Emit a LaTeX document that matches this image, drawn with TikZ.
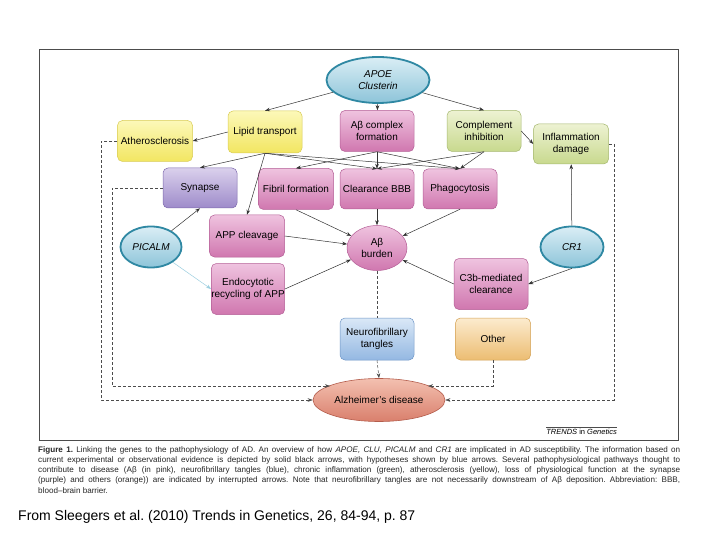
\documentclass[tikz,border=0pt]{standalone}
\usepackage{fontspec}
\setmainfont{Liberation Sans}
\usetikzlibrary{shapes.geometric,arrows.meta}

\definecolor{pinktop}{HTML}{EFC3DF}
\definecolor{pinkbot}{HTML}{D077AF}
\definecolor{pinkline}{HTML}{B45E96}
\definecolor{yeltop}{HTML}{FCF8B8}
\definecolor{yelbot}{HTML}{F2E662}
\definecolor{yelline}{HTML}{D9CC55}
\definecolor{grntop}{HTML}{EDF2D2}
\definecolor{grnbot}{HTML}{C8D98E}
\definecolor{grnline}{HTML}{A6B870}
\definecolor{purtop}{HTML}{DAD0EC}
\definecolor{purbot}{HTML}{9E8BCA}
\definecolor{purline}{HTML}{7D69AD}
\definecolor{blutop}{HTML}{DAE8F7}
\definecolor{blubot}{HTML}{94B8E2}
\definecolor{bluline}{HTML}{6D95C6}
\definecolor{orgtop}{HTML}{FCEBCE}
\definecolor{orgbot}{HTML}{ECBD72}
\definecolor{orgline}{HTML}{D3A052}
\definecolor{genetop}{HTML}{DAEEF5}
\definecolor{genebot}{HTML}{8DC4D9}
\definecolor{geneline}{HTML}{2F88A3}
\definecolor{adtop}{HTML}{F3C0B0}
\definecolor{adbot}{HTML}{D97F6C}
\definecolor{adline}{HTML}{B45D4C}
\definecolor{hypo}{HTML}{9CCFE0}

\begin{document}
\frenchspacing
\begin{tikzpicture}[x=1pt,y=-1pt,
    >={Stealth[length=5pt,width=3.6pt]},
    box/.style={rounded corners=5pt, minimum width=74pt, minimum height=41pt,
        inner sep=1pt, align=center, line width=0.5pt,
        font=\fontsize{10}{12}\selectfont},
    pinkbox/.style={box, draw=pinkline, top color=pinktop, bottom color=pinkbot},
    yelbox/.style={box, draw=yelline, top color=yeltop, bottom color=yelbot},
    grnbox/.style={box, draw=grnline, top color=grntop, bottom color=grnbot},
    purbox/.style={box, draw=purline, top color=purtop, bottom color=purbot},
    blubox/.style={box, draw=bluline, top color=blutop, bottom color=blubot},
    orgbox/.style={box, draw=orgline, top color=orgtop, bottom color=orgbot},
    gene/.style={ellipse, draw=geneline, line width=1.8pt, inner sep=0pt,
        top color=genetop, bottom color=genebot, align=center,
        font=\fontsize{10}{11.5}\selectfont\itshape},
    arr/.style={->, draw=black!80, line width=0.5pt},
    interrupted/.style={->, draw=black!70, line width=0.5pt, dash pattern=on 3pt off 2pt}
]
\useasboundingbox (0,0) rectangle (720,540);
\fill[white] (0,0) rectangle (720,540);
\draw[black!70, line width=0.8pt] (39,49) rectangle (678,440);

% genes
\node[gene, minimum width=103pt, minimum height=46pt] (apoe) at (378,80) {APOE\\Clusterin};
\node[gene, minimum width=61pt, minimum height=41pt] (picalm) at (151,247) {PICALM};
\node[gene, minimum width=63pt, minimum height=41pt] (cr1) at (572,247) {CR1};

% pathways
\node[yelbox, minimum height=42pt] (lipid) at (265,132) {Lipid transport};
\node[yelbox, minimum width=75pt] (athero) at (155,141) {Atherosclerosis};
\node[pinkbox] (complex) at (377,131) {Aβ complex\\formation};
\node[grnbox] (compl) at (484,131) {Complement\\inhibition};
\node[grnbox, minimum width=75pt, minimum height=40pt] (inflam) at (571,144) {Inflammation\\damage};
\node[purbox, minimum height=40pt] (synapse) at (200,188) {Synapse};
\node[pinkbox, minimum width=75pt] (fibril) at (296,189) {Fibril formation};
\node[pinkbox, minimum height=40pt] (bbb) at (377,189) {Clearance BBB};
\node[pinkbox, minimum height=40pt] (phago) at (460,189) {Phagocytosis};
\node[pinkbox, minimum width=75pt, minimum height=42pt] (app) at (247,236) {APP cleavage};
\node[pinkbox, minimum width=73pt, minimum height=51pt, inner sep=0pt] (endo) at (248,289) {Endocytotic\\recycling of APP};
\node[ellipse, draw=pinkline, line width=0.5pt, top color=pinktop, bottom color=pinkbot,
    minimum width=60pt, minimum height=45pt, inner sep=0pt, align=center,
    font=\fontsize{10}{12}\selectfont] (burden) at (377,248) {Aβ\\burden};
\node[pinkbox, minimum height=51pt] (c3b) at (491,284) {C3b-mediated\\clearance};
\node[blubox, minimum height=42pt] (nft) at (377,339) {Neurofibrillary\\tangles};
\node[orgbox, minimum width=75pt, minimum height=42pt] (other) at (493,339) {Other};

% outcome
\node[ellipse, draw=adline, line width=0.6pt, top color=adtop, bottom color=adbot,
    minimum width=132pt, minimum height=43pt, inner sep=0pt,
    font=\fontsize{10}{12}\selectfont] (ad) at (379,400) {Alzheimer's disease};

% solid arrows
\draw[arr] (apoe) -- (lipid.north);
\draw[arr] (apoe) -- (complex);
\draw[arr] (apoe) -- (compl.north);
\draw[arr] (lipid.west) -- (athero.east);
\foreach \b in {synapse,app,bbb,phago}
    \draw[arr] (lipid.south) -- (\b.north);
\foreach \b in {fibril,bbb,phago}
    \draw[arr] (complex.south) -- (\b.north);
\foreach \b in {bbb,phago}
    \draw[arr] (compl.south) -- (\b.north);
\draw[arr] (compl.east) -- (inflam.west);
\foreach \a in {fibril,bbb,phago}
    \draw[arr] (\a.south) -- (burden);
\draw[arr] (app.east) -- (burden);
\draw[arr] (endo.east) -- (burden);
\draw[arr] (c3b.west) -- (burden);
\draw[arr] (picalm) -- (synapse.south);
\draw[arr, draw=hypo] (picalm) -- (endo.west);
\draw[arr] (cr1) -- (inflam);
\draw[arr] (cr1.south) -- (c3b.east);

% interrupted arrows
\draw[interrupted] (athero.west) -- ++(-16,0) |- (ad.west);
\draw[interrupted] (synapse.west) -- ++(-51,0) |- ([xshift=-49pt,yshift=14pt]ad.center);
\draw[interrupted] (inflam.east) -- ++(5,0) |- (ad.east);
\draw[interrupted] (other.south) |- ([xshift=49pt,yshift=14pt]ad.center);
\draw[interrupted, -] (burden.south) -- (nft.north);
\draw[interrupted] (nft.south) -- (ad.north);

% journal mark
\node[anchor=south east, inner sep=0pt, font=\fontsize{7.5}{9}\selectfont\itshape] (trends) at (617,435) {TRENDS \textup{in} Genetics};
\draw[black!70, line width=0.4pt] (trends.north west) ++(0,-2) -- ++(71,0);

% caption
\node[anchor=north west, text width=642pt, align=justify, inner sep=0pt, text=black!85,
    font=\fontsize{8.1}{10.3}\selectfont] (caption) at (38,446) {\textbf{Figure 1.} Linking the genes to the pathophysiology of AD. An overview of how \textit{APOE, CLU, PICALM} and \textit{CR1} are implicated in AD susceptibility. The information based on\linebreak
current experimental or observational evidence is depicted by solid black arrows, with hypotheses shown by blue arrows. Several pathophysiological pathways thought to\linebreak
contribute to disease (Aβ (in pink), neurofibrillary tangles (blue), chronic inflammation (green), atherosclerosis (yellow), loss of physiological function at the synapse\linebreak
(purple) and others (orange)) are indicated by interrupted arrows. Note that neurofibrillary tangles are not necessarily downstream of Aβ deposition. Abbreviation: BBB,\linebreak
blood--brain barrier.};

\node[anchor=west, inner sep=0pt, font=\fontsize{14}{16}\selectfont] (source) at (18,517) {From Sleegers et al. (2010) Trends in Genetics, 26, 84-94, p. 87};
\end{tikzpicture}
\end{document}
